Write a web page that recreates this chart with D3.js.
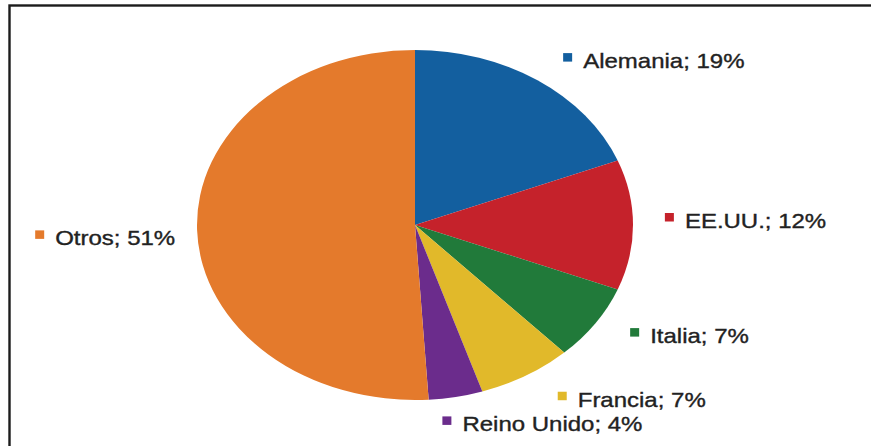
<!DOCTYPE html>
<html>
<head>
<meta charset="utf-8">
<script src="https://cdn.jsdelivr.net/npm/d3@7"></script>
<style>
  html, body { margin: 0; padding: 0; background: #fff; }
  svg { display: block; }
  text { font-family: "Liberation Sans", Arial, Helvetica, sans-serif; }
</style>
</head>
<body>
<svg id="chart" width="871" height="446"></svg>
<script>
// Share of total by country (percent)
const categories = ["Alemania", "EE.UU.", "Italia", "Francia", "Reino Unido", "Otros"];
const shares = [19, 12, 7, 7, 4, 51];
const colors = ["#135f9f", "#c5222b", "#217a3a", "#e1b92a", "#6b2c8c", "#e47a2c"];

const W = 871, H = 446;
const cx = 415, cy = 225;       // pie centre
const ry = 175, rx = 218;        // vertical / horizontal radii (pie is drawn stretched)
const stretch = rx / ry;
const textStretch = 1.2;
const textGap = 20;              // square left edge to text start

// small per-label nudges from the computed label anchor
const labelNudge = {
  "Alemania":    [10, -4],
  "EE.UU.":      [1, -12],
  "Italia":      [10, -11],
  "Francia":     [18, -8],
  "Reino Unido": [-16, -8],
  "Otros":       [13, -1]
};

const data = categories.map((c, i) => ({ name: c, value: shares[i], color: colors[i] }));

const svg = d3.select("#chart");

// frame
svg.append("rect")
  .attr("x", 9.5).attr("y", 5.5)
  .attr("width", W + 20).attr("height", H + 20)
  .attr("fill", "none")
  .attr("stroke", "#1c1c1c")
  .attr("stroke-width", 2.4);

const pie = d3.pie().sort(null).value(d => d.value);
const arcs = pie(data);
const arc = d3.arc().innerRadius(0).outerRadius(ry);

svg.append("g")
  .attr("transform", `translate(${cx},${cy}) scale(${stretch},1)`)
  .selectAll("path")
  .data(arcs)
  .join("path")
  .attr("d", arc)
  .attr("fill", d => d.data.color);

// labels: coloured square + "name; value%"
const labelR = ry * 1.16;
const labels = svg.append("g");
arcs.forEach(a => {
  const mid = (a.startAngle + a.endAngle) / 2;
  const nx = cx + labelR * stretch * Math.sin(mid);
  const ny = cy - labelR * Math.cos(mid);
  const [dx, dy] = labelNudge[a.data.name];
  const ax = nx + dx, ay = ny + dy;
  const label = `${a.data.name}; ${a.data.value}%`;
  const right = Math.sin(mid) >= 0;

  const g = labels.append("g");
  const t = g.append("text")
    .attr("font-size", 20)
    .attr("fill", "#222")
    .attr("stroke", "#222")
    .attr("stroke-width", 0.35)
    .text(label);
  const tw = t.node().getComputedTextLength() * textStretch;

  // square top sits at ay, text baseline below it
  const sqX = right ? ax - 4 : ax - tw - textGap;
  const textX = sqX + textGap;
  const baseline = ay + 15;
  t.attr("transform", `translate(${textX},${baseline}) scale(${textStretch},1)`);
  g.append("rect")
    .attr("x", sqX).attr("y", ay)
    .attr("width", 9).attr("height", 8.5)
    .attr("fill", a.data.color);
});
</script>
</body>
</html>
